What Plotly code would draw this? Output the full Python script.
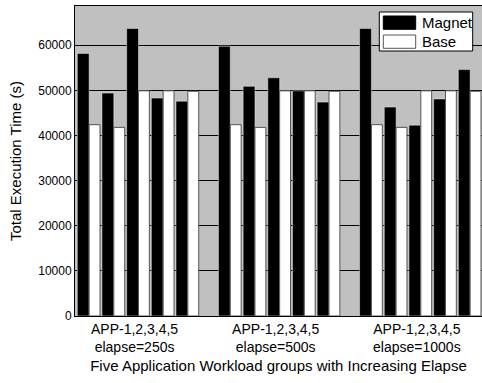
import plotly.graph_objects as go

# ---- data ----
group_labels = ["APP-1,2,3,4,5<br>elapse=250s",
                "APP-1,2,3,4,5<br>elapse=500s",
                "APP-1,2,3,4,5<br>elapse=1000s"]
apps = ["APP-1", "APP-2", "APP-3", "APP-4", "APP-5"]
series_names = ["Magnet", "Base"]

magnet_250 = [58200, 49400, 63700, 48300, 47600]
magnet_500 = [59800, 50900, 52800, 49900, 47400]
magnet_1000 = [63700, 46300, 42300, 48100, 54600]

base_250 = [42400, 41800, 49900, 49900, 49800]
base_500 = [42400, 41800, 49900, 49900, 49800]
base_1000 = [42400, 41800, 49900, 49900, 49800]

magnet_series = [magnet_250, magnet_500, magnet_1000]
base_series = [base_250, base_500, base_1000]

# ---- geometry ----
W, H = 482, 383
ML, MR, MT, MB = 75, 0, 6, 67
PW, PH = W - ML - MR, H - MT - MB

def px_x(p):  # pixel -> paper x
    return (p - ML) / PW

def px_y(p):  # pixel -> paper y
    return (H - MB - p) / PH

GROUP_STEP = 5.72
x_pos = [g * GROUP_STEP + k for g in range(len(group_labels)) for k in range(len(apps))]
magnet_all = [v for s in magnet_series for v in s]
base_all = [v for s in base_series for v in s]
tick_pos = [g * GROUP_STEP + 2.32 for g in range(len(group_labels))]

FONT = "Liberation Sans, Arial, sans-serif"
EDGE_B = "#555555"

fig = go.Figure()
fig.add_bar(x=x_pos, y=magnet_all, offset=0.0, width=0.48, name=series_names[0],
            showlegend=False, marker=dict(color="black"))
fig.add_bar(x=x_pos, y=base_all, offset=0.48, width=0.44, name=series_names[1],
            showlegend=False,
            marker=dict(color="white", line=dict(color=EDGE_B, width=1)))

# ---- legend drawn as box + swatches + text ----
shapes = [
    dict(type="rect", xref="paper", yref="paper",
         x0=px_x(379.3), x1=px_x(472.7), y0=px_y(51), y1=px_y(12),
         fillcolor="white", line=dict(color="black", width=1), layer="above"),
    dict(type="rect", xref="paper", yref="paper",
         x0=px_x(383.3), x1=px_x(415.7), y0=px_y(29.3), y1=px_y(16),
         fillcolor="black", line=dict(color="black", width=1), layer="above"),
    dict(type="rect", xref="paper", yref="paper",
         x0=px_x(383.3), x1=px_x(415.7), y0=px_y(48.3), y1=px_y(35),
         fillcolor="white", line=dict(color=EDGE_B, width=1), layer="above"),
]
annotations = [
    dict(text=series_names[0], xref="paper", yref="paper", x=px_x(420), y=px_y(22.7),
         xanchor="left", yanchor="middle", showarrow=False,
         font=dict(size=15, family=FONT, color="black")),
    dict(text=series_names[1], xref="paper", yref="paper", x=px_x(420), y=px_y(41.7),
         xanchor="left", yanchor="middle", showarrow=False,
         font=dict(size=15, family=FONT, color="black")),
]

fig.update_layout(
    width=W, height=H,
    margin=dict(l=ML, r=MR, t=MT, b=MB),
    paper_bgcolor="white",
    plot_bgcolor="#C0C0C0",
    barmode="overlay",
    font=dict(family=FONT, color="black"),
    shapes=shapes,
    annotations=annotations,
    xaxis=dict(range=[-0.093, 16.40], tickmode="array", tickvals=tick_pos,
               ticktext=group_labels, showgrid=False,
               showline=True, linecolor="black", mirror=True,
               automargin=False, tickfont=dict(size=14),
               title=dict(text="Five Application Workload groups with Increasing Elapse",
                          font=dict(size=15), standoff=6)),
    yaxis=dict(range=[0, 68700], dtick=10000, tickformat="d", automargin=False,
               gridcolor="black", zeroline=False,
               showline=True, linecolor="black",
               tickfont=dict(size=12),
               title=dict(text="Total Execution Time (s)", font=dict(size=15), standoff=12)),
)

fig.write_html("out.html")
